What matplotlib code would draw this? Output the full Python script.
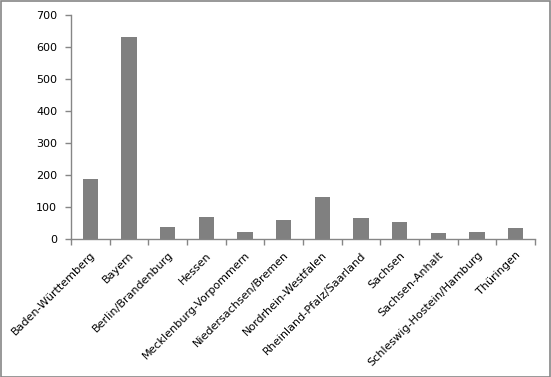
import matplotlib
matplotlib.use("Agg")
import matplotlib.pyplot as plt
from matplotlib.patches import Rectangle
import numpy as np

categories = ["Baden-Württemberg", "Bayern", "Berlin/Brandenburg", "Hessen",
              "Mecklenburg-Vorpommern", "Niedersachsen/Bremen", "Nordrhein-Westfalen",
              "Rheinland-Pfalz/Saarland", "Sachsen", "Sachsen-Anhalt",
              "Schleswig-Hostein/Hamburg", "Thüringen"]
values = [187, 630, 37, 69, 22, 59, 131, 65, 53, 19, 22, 34]
yticks = [0, 100, 200, 300, 400, 500, 600, 700]

plt.rcParams['font.family'] = ['DejaVu Sans']
fig = plt.figure(figsize=(5.51, 3.77), dpi=100)
ax = fig.add_axes([71/551, (377-239)/377, (535-71)/551, (239-14.7)/377])

x = np.arange(len(categories))
ax.bar(x, values, width=0.4, color="#808080", zorder=2)

ax.set_xlim(-0.5, len(categories) - 0.5)
ax.set_ylim(0, 700)
ax.set_yticks(yticks)
ax.set_yticklabels([str(t) for t in yticks], fontsize=8, color="black")

ax.set_xticks(x)
ax.set_xticklabels(categories, rotation=45, ha="right", va="top",
                   rotation_mode="anchor", fontsize=8, color="black")
ax.tick_params(axis="x", which="major", length=0, pad=8)
ax.set_xticks(np.arange(-0.5, len(categories)), minor=True)
ax.tick_params(axis="x", which="minor", length=4, width=1, color="#868686", direction="out")
ax.tick_params(axis="y", length=4, width=1, color="#868686", direction="out", pad=6)

for s in ["top", "right"]:
    ax.spines[s].set_visible(False)
for s in ["left", "bottom"]:
    ax.spines[s].set_color("#868686")
    ax.spines[s].set_linewidth(1)

fig.patches.append(Rectangle((0.001, 0.001), 0.997, 0.996, transform=fig.transFigure,
                             fill=False, edgecolor="#868686", linewidth=1.2))

fig.savefig("out.png", dpi=100)
